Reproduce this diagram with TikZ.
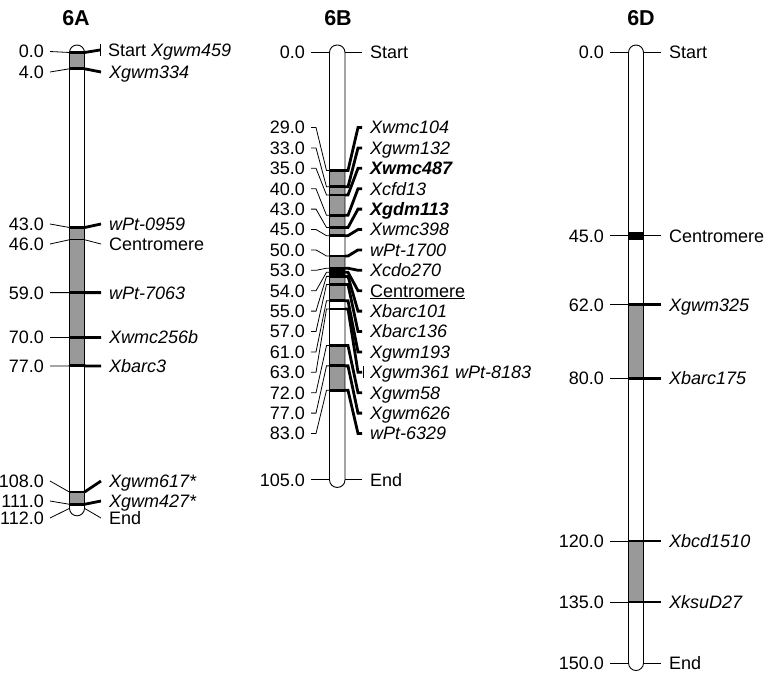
\documentclass[tikz,border=0pt]{standalone}
\usepackage{fontspec}
\setmainfont{Liberation Sans}
\usetikzlibrary{calc}
\newcommand\cmy[1]{52.5+4.07*#1}
\begin{document}
\begin{tikzpicture}[x=1pt,y=-1pt,
  txt/.style={inner ysep=0pt,text height=12.8pt,text depth=0pt,font=\fontsize{18}{21}\selectfont},
  num/.style={txt,anchor=east,inner xsep=6pt},
  lab/.style={txt,anchor=west,inner xsep=8pt},
  thinln/.style={line width=0.8pt},
  thickln/.style={line width=2.8pt},
  noband/.style={draw=none},
  chrom/.style={line width=0.9pt,rounded corners=7.5pt},
  grayfill/.style={fill=gray!80},
  head/.style={font=\bfseries\fontsize{21.5}{24}\selectfont}]
\useasboundingbox (0,0) rectangle (767,675);

% headings
\node[head] (h6a) at (76,18) {6A};
\node[head] (h6b) at (338,18) {6B};
\node[head] (h6d) at (641,18) {6D};

% ---------------- 6A ----------------
\path[chrom,fill=white] (69.5,45) rectangle (84.5,515.8);
\fill[grayfill] (69.5,{\cmy{0}}) rectangle (84.5,{\cmy{4}});
\fill[grayfill] (69.5,{\cmy{43}}) rectangle (84.5,{\cmy{77}});
\fill[grayfill] (69.5,{\cmy{108}}) rectangle (84.5,{\cmy{111}});
\draw[chrom] (69.5,45) rectangle (84.5,515.8);

\coordinate (aL1) at (69.5,{\cmy{0}});
\coordinate (aR1) at (84.5,{\cmy{0}});
\node[num] (an1) at (50,51.5) {0.0};
\node[lab] (am1) at (100,50) {Start \textit{Xgwm459}};
\draw[thinln] (an1.east) -- (aL1);
\draw[thickln] (aL1) -- (aR1);
\draw[thickln] (aR1) -- (am1.west);
\draw[thinln] ($(am1.west)+(0,-6.5)$) -- ($(am1.west)+(0,6)$);

\foreach \i/\cm/\ly/\mk/\w/\b in {
 2/4/72/{\textit{Xgwm334}}/thickln/thickln,
 3/43/224/{\textit{wPt-0959}}/thickln/thickln,
 4/46/244/{Centromere}/thinln/thinln,
 5/59/292.6/{\textit{wPt-7063}}/thickln/thickln,
 6/70/337.4/{\textit{Xwmc256b}}/thickln/thickln,
 7/77/365.9/{\textit{Xbarc3}}/thickln/thickln,
 8/108/481/{\textit{Xgwm617*}}/thickln/thickln,
 9/111/501/{\textit{Xgwm427*}}/thickln/thickln,
 10/112/518/{End}/thinln/noband}
{
 \coordinate (aL\i) at (69.5,{\cmy{\cm}});
 \coordinate (aR\i) at (84.5,{\cmy{\cm}});
 \node[num] (an\i) at (50,\ly) {\cm.0};
 \node[lab] (am\i) at (101,\ly) {\mk};
 \draw[thinln] (an\i.east) -- (aL\i);
 \draw[\b] (aL\i) -- (aR\i);
 \draw[\w] (aR\i) -- (am\i.west);
}

% ---------------- 6B ----------------
\path[chrom,fill=white] (329.5,45) rectangle (345,487.4);
\fill[grayfill] (329.5,{\cmy{29}}) rectangle (345,{\cmy{45}});
\fill[grayfill] (329.5,{\cmy{50}}) rectangle (345,{\cmy{61}});
\fill[grayfill] (329.5,{\cmy{72}}) rectangle (345,{\cmy{83}});
\fill[black] (329.5,{\cmy{53}}) rectangle (345,{\cmy{54}+4});
\draw[chrom] (329.5,45) rectangle (345,487.4);

\coordinate (bL0) at (329.5,{\cmy{0}});
\coordinate (bR0) at (345,{\cmy{0}});
\node[num] (bn0) at (311,52.5) {0.0};
\node[lab] (bm0) at (362,52.5) {Start};
\draw[thinln] (bn0.east) -- (bL0);
\draw[thinln] (bR0) -- (bm0.west);

\coordinate (bL17) at (329.5,{\cmy{105}});
\coordinate (bR17) at (345,{\cmy{105}});
\node[num] (bn17) at (311,{\cmy{105}}) {105.0};
\node[lab] (bm17) at (362,{\cmy{105}}) {End};
\draw[thinln] (bn17.east) -- (bL17);
\draw[thinln] (bR17) -- (bm17.west);

\foreach \i/\cm/\mk/\w/\b in {
 1/29/{\textit{Xwmc104}}/thickln/thickln,
 2/33/{\textit{Xgwm132}}/thickln/thickln,
 3/35/{\textbf{\textit{Xwmc487}}}/thickln/thickln,
 4/40/{\textit{Xcfd13}}/thickln/thickln,
 5/43/{\textbf{\textit{Xgdm113}}}/thickln/thickln,
 6/45/{\textit{Xwmc398}}/thickln/thickln,
 7/50/{\textit{wPt-1700}}/thickln/thickln,
 8/53/{\textit{Xcdo270}}/thickln/thickln,
 9/54/{\underline{Centromere}}/thickln/noband,
 10/55/{\textit{Xbarc101}}/thickln/thickln,
 11/57/{\textit{Xbarc136}}/thickln/thickln,
 12/61/{\textit{Xgwm193}}/thickln/thickln,
 13/63/{\textit{Xgwm361 wPt-8183}}/thickln/thickln,
 14/72/{\textit{Xgwm58}}/thickln/thickln,
 15/77/{\textit{Xgwm626}}/thickln/thickln,
 16/83/{\textit{wPt-6329}}/thickln/thickln}
{
 \coordinate (bL\i) at (329.5,{\cmy{\cm}});
 \coordinate (bR\i) at (345,{\cmy{\cm}});
 \node[num] (bn\i) at (311,{127.5+20.4*(\i-1)}) {\cm.0};
 \node[lab] (bm\i) at (362,{127.5+20.4*(\i-1)}) {\mk};
 \draw[thinln] (bn\i.east) -- ++(5,0) -- ($(bL\i)+(-3,0)$) -- (bL\i);
 \draw[\b] (bL\i) -- (bR\i);
 \draw[\w] (bR\i) -- ++(3,0) -- ($(bm\i.west)+(-4,0)$) -- (bm\i.west);
}
\draw[thinln] ($(bm13.west)+(1,-6)$) -- ($(bm13.west)+(1,5.5)$);

% ---------------- 6D ----------------
\path[chrom,fill=white] (628.5,45) rectangle (643.5,{\cmy{150}+7.5});
\fill[grayfill] (628.5,{\cmy{62}}) rectangle (643.5,{\cmy{80}});
\fill[grayfill] (628.5,{\cmy{120}}) rectangle (643.5,{\cmy{135}});
\fill[black] (628.5,{\cmy{45}-4}) rectangle (643.5,{\cmy{45}+4});
\draw[chrom] (628.5,45) rectangle (643.5,{\cmy{150}+7.5});

\foreach \i/\cm/\mk/\w/\b in {
 1/0/{Start}/thinln/noband,
 2/45/{Centromere}/thinln/noband,
 3/62/{\textit{Xgwm325}}/thickln/thickln,
 4/80/{\textit{Xbarc175}}/thickln/thickln,
 5/120/{\textit{Xbcd1510}}/thickln/thickln,
 6/135/{\textit{XksuD27}}/thickln/thickln,
 7/150/{End}/thinln/noband}
{
 \coordinate (dL\i) at (628.5,{\cmy{\cm}});
 \coordinate (dR\i) at (643.5,{\cmy{\cm}});
 \node[num] (dn\i) at (610,{\cmy{\cm}}) {\cm.0};
 \node[lab] (dm\i) at (661,{\cmy{\cm}}) {\mk};
 \draw[thinln] (dn\i.east) -- (dL\i);
 \draw[\b] (dL\i) -- (dR\i);
 \draw[\w] (dR\i) -- (dm\i.west);
}
\end{tikzpicture}
\end{document}
